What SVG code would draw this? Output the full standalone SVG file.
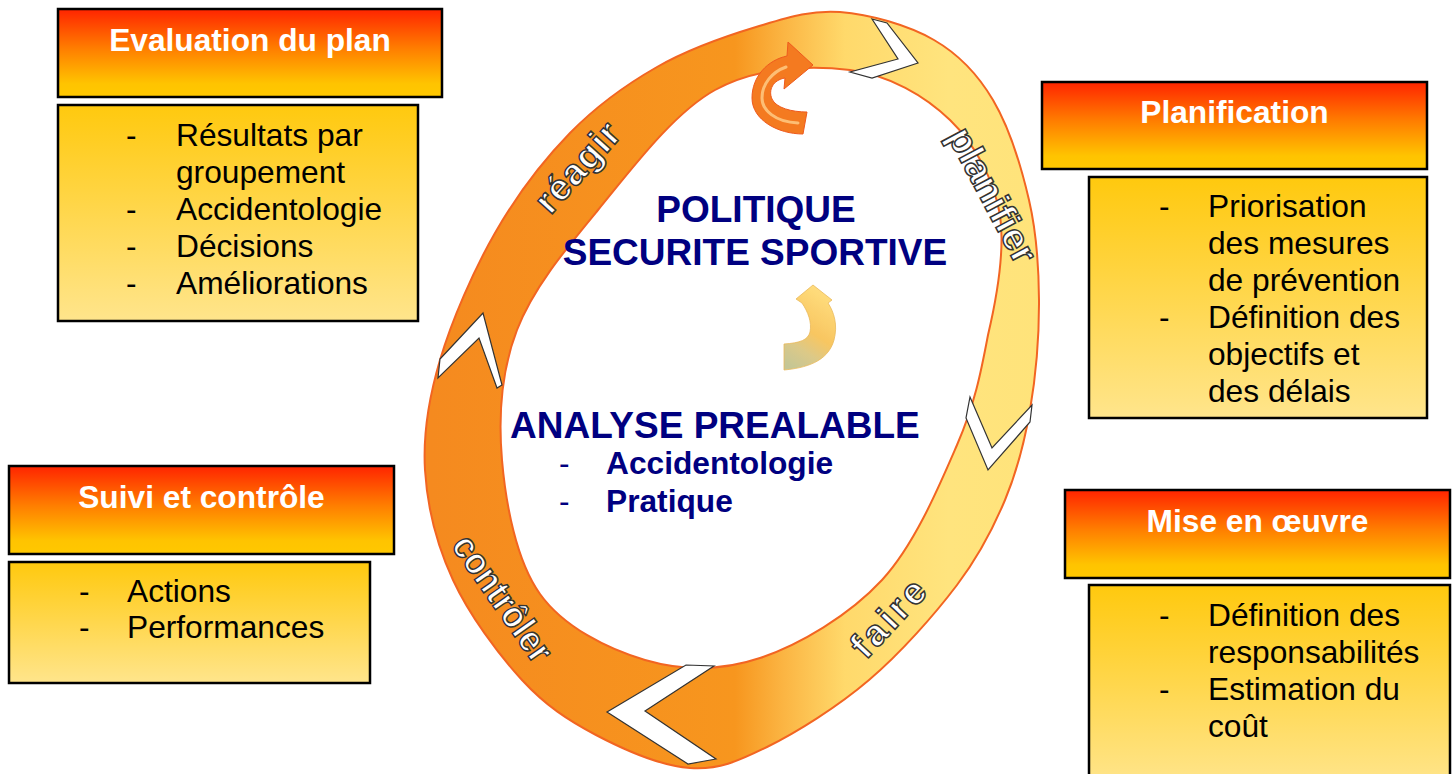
<svg xmlns="http://www.w3.org/2000/svg" width="1455" height="774" viewBox="0 0 1455 774">
<defs>
<linearGradient id="titleGrad" x1="0" y1="0" x2="0" y2="1">
<stop offset="0" stop-color="#FF2400"/>
<stop offset="0.45" stop-color="#FF7E00"/>
<stop offset="0.85" stop-color="#FFC400"/>
<stop offset="1" stop-color="#FFC800"/>
</linearGradient>
<linearGradient id="bodyGrad" x1="0" y1="0" x2="0" y2="1">
<stop offset="0" stop-color="#FFC90E"/>
<stop offset="1" stop-color="#FFE58C"/>
</linearGradient>
<linearGradient id="ringGrad" gradientUnits="userSpaceOnUse" x1="430" y1="0" x2="1040" y2="0">
<stop offset="0" stop-color="#F58A1F"/>
<stop offset="0.5" stop-color="#F7961E"/>
<stop offset="0.58" stop-color="#FBB543"/>
<stop offset="0.68" stop-color="#FFD96B"/>
<stop offset="0.85" stop-color="#FFE47E"/>
<stop offset="1" stop-color="#FFE37A"/>
</linearGradient>
<linearGradient id="midArrowGrad" x1="0.6" y1="0" x2="0.2" y2="1">
<stop offset="0" stop-color="#FFDA70"/>
<stop offset="0.5" stop-color="#F8C050"/>
<stop offset="0.75" stop-color="#D8C47C"/>
<stop offset="1" stop-color="#BFC08A"/>
</linearGradient>
<style>
.title{fill:url(#titleGrad);stroke:#000;stroke-width:2.5}
.body{fill:url(#bodyGrad);stroke:#000;stroke-width:2.5}
.tt{font-family:"Liberation Sans",Arial,sans-serif;font-weight:bold;font-size:31.7px;fill:#fff;text-anchor:middle}
.bt{font-family:"Liberation Sans",Arial,sans-serif;font-size:31.7px;fill:#000}
.ct{font-family:"Liberation Sans",Arial,sans-serif;font-weight:bold;fill:#000080}
.rl{font-family:"Liberation Sans",Arial,sans-serif;font-weight:bold;font-size:37px;fill:#fff;stroke:#333;stroke-width:1.5;text-anchor:middle}
.chev{fill:#fff;stroke:#333;stroke-width:1.2;stroke-linejoin:miter}
</style>
</defs>
<rect width="1455" height="774" fill="#fff"/>

<g id="connectors">
<path id="ring" fill="url(#ringGrad)" fill-rule="evenodd" stroke="#F26522" stroke-width="2" d="M840,12 C869.7,14.2 908.5,25.3 934,40 C959.5,54.7 977.2,73.3 993,100 C1008.8,126.7 1021.3,166.7 1029,200 C1036.7,233.3 1038.8,265 1039,300 C1039.2,335 1035.7,376.7 1030,410 C1024.3,443.3 1017.2,470.8 1005,500 C992.8,529.2 979.7,555 957,585 C934.3,615 900.7,653 869,680 C837.3,707 796.8,732.3 767,747 C737.2,761.7 718.5,770 690,768 C661.5,766 624,749.7 596,735 C568,720.3 545.8,705.8 522,680 C498.2,654.2 469.2,615 453,580 C436.8,545 427.2,506.7 425,470 C422.8,433.3 428.3,399.5 440,360 C451.7,320.5 473.3,270.8 495,233 C516.7,195.2 543,160.7 570,133 C597,105.3 626,84.7 657,67 C688,49.3 725.5,36.2 756,27 C787,17.8 810.3,9.8 840,12 Z M850,70 C889.2,75 925,95.8 950,120 C975,144.2 993.7,179.2 1000,215 C1005,250 997,296.7 988,335 C980.8,373.3 974.7,404.2 957,445 C939.3,485.8 914.8,544.5 882,580 C849.2,615.5 799.5,644.7 760,658 C720.5,671.3 681.7,670.7 645,660 C608.3,649.3 563.8,627.3 540,594 C516.2,560.7 505.8,504 502,460 C498.2,416 501,371.7 517,330 C533,288.3 565,250 598,210 C631,170 673,113.3 715,90 C757,66.7 810.8,65 850,70 Z"/>
<polygon class="chev" points="872,19 887,23 918,63 872,78 850,72 898,59"/>
<polygon class="chev" points="970,397 992,448 1032,405 1030,422 988,470 966,418"/>
<polygon class="chev" points="607,712 686,665 714,666 645,711 716,759 688,764"/>
<polygon class="chev" points="440,359 483,313 502,385 497,388 479,338 438,378"/>
<text class="rl" transform="translate(577,167) rotate(-48)" dy="0.35em" textLength="108">réagir</text>
<text class="rl" transform="translate(993,195) rotate(62)" dy="0.35em" textLength="148" lengthAdjust="spacingAndGlyphs">planifier</text>
<text class="rl" transform="translate(888,618) rotate(-47)" dy="0.35em" textLength="92">faire</text>
<text class="rl" transform="translate(503,598) rotate(55)" dy="0.35em" textLength="146" lengthAdjust="spacingAndGlyphs">contrôler</text>
<path id="top-arrow" fill="#F47A20" stroke="#EE5A1E" stroke-width="1" d="M807,112 L803,134 C778,134 752,120 752,98 C752,76 768,60 787,56 L788,42 L813,65 L784,89 L785,78 C773,80 768,90 772,99 C776,108 792,112 807,112 Z"/>
<path fill="none" stroke="#FFD08A" stroke-width="3" stroke-linecap="round" opacity="0.8" d="M798,123 C775,122 762,110 762,98 C762,84 772,72 786,67"/>
<path id="mid-arrow" fill="url(#midArrowGrad)" stroke="#E9B24A" stroke-width="0.8" opacity="0.9" d="M784,344 L784,370 C805,368 828,362 834,340 C838,325 834,312 828,303 L832,300 L813,285 L796,299 L802,303 C808,312 812,322 810,332 C808,340 800,343 784,344 Z"/>
</g>

<g id="center">
<text class="ct" x="756" y="222" font-size="37" text-anchor="middle">POLITIQUE</text>
<text class="ct" x="755" y="265" font-size="37" text-anchor="middle">SECURITE SPORTIVE</text>
<text class="ct" x="510" y="438" font-size="37">ANALYSE PREALABLE</text>
<text class="ct" x="559" y="474" font-size="31.7" style="font-weight:normal">-</text>
<text class="ct" x="606" y="474" font-size="31.7">Accidentologie</text>
<text class="ct" x="559" y="512" font-size="31.7" style="font-weight:normal">-</text>
<text class="ct" x="606" y="512" font-size="31.7">Pratique</text>
</g>

<g id="node-evaluation">
<rect class="title" x="58" y="9" width="384" height="88"/>
<text class="tt" x="250" y="51">Evaluation du plan</text>
<rect class="body" x="58" y="105" width="360" height="216"/>
<text class="bt" x="126" y="146">-</text><text class="bt" x="176" y="146">Résultats par</text>
<text class="bt" x="176" y="183">groupement</text>
<text class="bt" x="126" y="220">-</text><text class="bt" x="176" y="220">Accidentologie</text>
<text class="bt" x="126" y="257">-</text><text class="bt" x="176" y="257">Décisions</text>
<text class="bt" x="126" y="294">-</text><text class="bt" x="176" y="294">Améliorations</text>
</g>

<g id="node-planification">
<rect class="title" x="1042" y="82" width="385" height="87"/>
<text class="tt" x="1234.5" y="123">Planification</text>
<rect class="body" x="1089" y="177" width="338" height="241"/>
<text class="bt" x="1159" y="217">-</text><text class="bt" x="1208" y="217">Priorisation</text>
<text class="bt" x="1208" y="254">des mesures</text>
<text class="bt" x="1208" y="291">de prévention</text>
<text class="bt" x="1159" y="328">-</text><text class="bt" x="1208" y="328">Définition des</text>
<text class="bt" x="1208" y="365">objectifs et</text>
<text class="bt" x="1208" y="402">des délais</text>
</g>

<g id="node-mise-en-oeuvre">
<rect class="title" x="1065" y="490" width="385" height="88"/>
<text class="tt" x="1257.5" y="532">Mise en œuvre</text>
<rect class="body" x="1089" y="585" width="361" height="200"/>
<text class="bt" x="1159" y="626">-</text><text class="bt" x="1208" y="626">Définition des</text>
<text class="bt" x="1208" y="663">responsabilités</text>
<text class="bt" x="1159" y="700">-</text><text class="bt" x="1208" y="700">Estimation du</text>
<text class="bt" x="1208" y="737">coût</text>
</g>

<g id="node-suivi">
<rect class="title" x="9" y="466" width="385" height="88"/>
<text class="tt" x="201.5" y="508">Suivi et contrôle</text>
<rect class="body" x="9" y="562" width="361" height="121"/>
<text class="bt" x="79" y="602">-</text><text class="bt" x="127" y="602">Actions</text>
<text class="bt" x="79" y="638">-</text><text class="bt" x="127" y="638">Performances</text>
</g>
</svg>
